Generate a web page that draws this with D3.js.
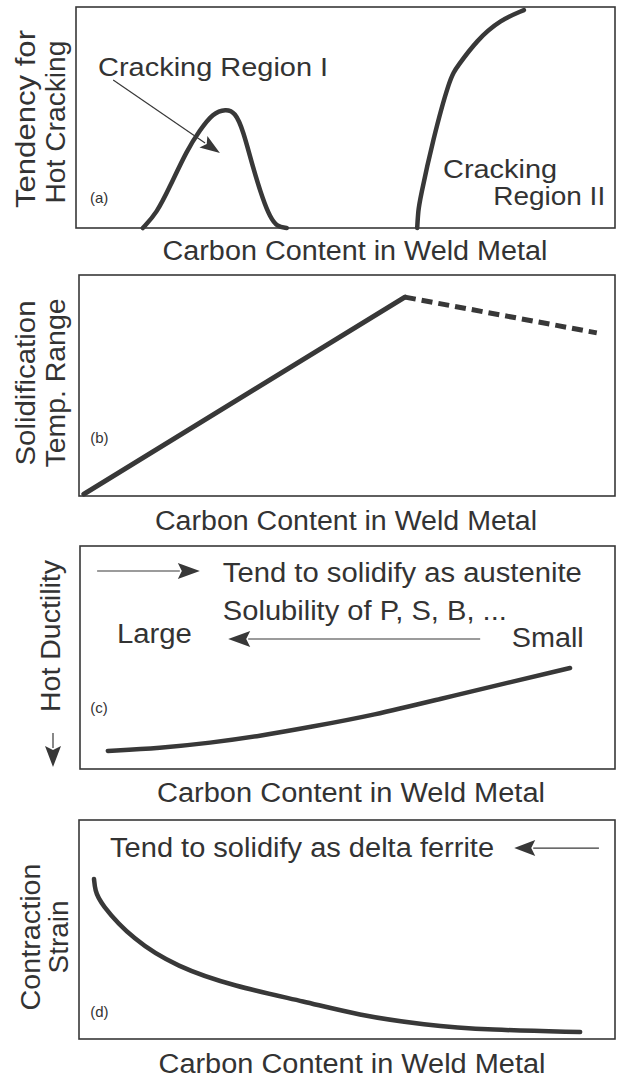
<!DOCTYPE html>
<html>
<head>
<meta charset="utf-8">
<script src="https://cdn.jsdelivr.net/npm/d3@7"></script>
<style>
  body { margin: 0; background: #fff; }
  text { font-family: "Liberation Sans", Arial, Helvetica, sans-serif; fill: #333; }
</style>
</head>
<body>
<article></article>
<script>
// values, in arbitrary 0-100 units per panel
const regionI = [[12.4, 0], [15.0, 6.8], [17.4, 18.6], [20.6, 35.3], [23.0, 44.3], [25.4, 52.0], [27.8, 53.8],
    [29.5, 52.5], [31.0, 44.3], [32.8, 27.6], [34.7, 12.7], [36.0, 5.0], [37.3, 0.5], [39.1, 0]]
const regionII = [[63.3, 0], [63.5, 8.0], [63.8, 12.7], [66.2, 39.8], [69.4, 68.3], [70.7, 72.9], [74.4, 85.1], [78.7, 94.1], [83.1, 98.6]]
const solidRange = [[0.9, 0.9], [60.8, 90.0]]
const solidRangeDashed = [[60.8, 90.0], [96.6, 73.8]]
const hotDuctility = [[5.2, 8.1], [15.0, 9.4], [24.3, 11.7], [33.6, 14.8], [43.0, 18.8], [55.0, 24.2], [67.3, 31.4], [79.8, 38.6], [91.6, 45.3]]
const contraction = [[2.8, 73.1], [3.0, 68.0], [3.9, 62.1], [10.1, 45.2], [18.3, 32.9], [28.7, 24.2], [42.5, 16.9], [51.9, 11.0],
    [64.4, 6.4], [76.7, 4.1], [93.5, 3.2]]

const xTitle = "Carbon Content in Weld Metal"
const panelTags = ["(a)", "(b)", "(c)", "(d)"]
const yTitles = [["Tendency for", "Hot Cracking"], ["Solidification", "Temp. Range"], ["Hot Ductility"], ["Contraction", "Strain"]]

const m = { width: 617, height: 1080 }
const ink = '#383838'

const svg = d3.select("article").append('svg')
    .attr('width', m.width)
    .attr('height', m.height)

const boxes = [
    { left: 76, right: 615, top: 7, bottom: 228, titleY: 260, titleX: 355, titleLen: 385 },
    { left: 79, right: 615, top: 275, bottom: 496, titleY: 530, titleX: 346, titleLen: 382 },
    { left: 80, right: 615, top: 546, bottom: 769, titleY: 802, titleX: 351, titleLen: 388 },
    { left: 79, right: 615, top: 820, bottom: 1039, titleY: 1073, titleX: 352, titleLen: 387 }
]
const tagPos = [[2.6, 11.3], [2.1, 24.0], [1.9, 25.1], [2.1, 10.0]]
const yTitlePos = [
    [[35, 119, 178], [65, 122, 163]],
    [[35, 383, 165], [65, 383, 169]],
    [[60, 636, 152]],
    [[40, 937, 147], [68, 937, 73]]
]

const panels = boxes.map(function (b, i) {
    const x = d3.scaleLinear().domain([0, 100]).range([b.left, b.right])
    const y = d3.scaleLinear().domain([0, 100]).range([b.bottom, b.top])
    const g = svg.append('g')

    g.append('rect')
        .attr('x', b.left)
        .attr('y', b.top)
        .attr('width', b.right - b.left)
        .attr('height', b.bottom - b.top)
        .attr('fill', 'none')
        .attr('stroke', ink)
        .attr('stroke-width', 1.6)

    g.append('text')
        .attr('x', b.titleX)
        .attr('y', b.titleY)
        .attr('text-anchor', 'middle')
        .attr('font-size', 27)
        .attr('textLength', b.titleLen)
        .attr('lengthAdjust', 'spacingAndGlyphs')
        .text(xTitle)

    g.append('text')
        .attr('x', x(tagPos[i][0]))
        .attr('y', y(tagPos[i][1]))
        .attr('font-size', 15)
        .text(panelTags[i])

    yTitles[i].forEach(function (t, j) {
        const p = yTitlePos[i][j]
        g.append('text')
            .attr('transform', 'translate(' + p[0] + ',' + p[1] + ') rotate(-90)')
            .attr('text-anchor', 'middle')
            .attr('font-size', 27)
            .attr('textLength', p[2])
            .attr('lengthAdjust', 'spacingAndGlyphs')
            .text(t)
    })

    return { g: g, x: x, y: y }
})

function curve(p, data, opts) {
    const line = d3.line()
        .x(function (d) { return p.x(d[0]) })
        .y(function (d) { return p.y(d[1]) })
        .curve(opts.curve || d3.curveLinear)
    p.g.append('path')
        .datum(data)
        .attr('d', line)
        .attr('fill', 'none')
        .attr('stroke', ink)
        .attr('stroke-width', opts.width || 4.5)
        .attr('stroke-linecap', opts.cap || 'round')
        .attr('stroke-linejoin', 'round')
        .attr('stroke-dasharray', opts.dash || null)
}

// thin shaft + filled head, from (x1,y1) to tip (x2,y2), all in pixels
function arrow(g, x1, y1, x2, y2, headLen, headHalf) {
    const dx = x2 - x1, dy = y2 - y1
    const len = Math.sqrt(dx * dx + dy * dy)
    const ux = dx / len, uy = dy / len
    const bx = x2 - ux * headLen, by = y2 - uy * headLen
    g.append('line')
        .attr('x1', x1).attr('y1', y1)
        .attr('x2', bx + ux * 2).attr('y2', by + uy * 2)
        .attr('stroke', ink)
        .attr('stroke-width', 1.2)
    g.append('path')
        .attr('d', 'M' + x2 + ',' + y2 +
            'L' + (bx - uy * headHalf) + ',' + (by + ux * headHalf) +
            'L' + (bx + ux * 4) + ',' + (by + uy * 4) +
            'L' + (bx + uy * headHalf) + ',' + (by - ux * headHalf) + 'Z')
        .attr('fill', ink)
}

function label(p, txt, xv, yv, size, len) {
    p.g.append('text')
        .attr('x', p.x(xv))
        .attr('y', p.y(yv))
        .attr('font-size', size)
        .attr('textLength', len)
        .attr('lengthAdjust', 'spacingAndGlyphs')
        .text(txt)
}

// (a)
const pa = panels[0]
curve(pa, regionI, { curve: d3.curveBasis })
curve(pa, regionII, { curve: d3.curveBasis })
label(pa, "Cracking Region I", 4.1, 68.8, 25, 230)
label(pa, "Cracking", 68.1, 22.6, 25, 114)
label(pa, "Region II", 77.4, 10.4, 25, 112)
arrow(pa.g, pa.x(6.9), pa.y(67.0), pa.x(26.7), pa.y(33.9), 20, 7)

// (b)
const pb = panels[1]
curve(pb, solidRange, { width: 5 })
curve(pb, solidRangeDashed, { width: 5, dash: '11,6', cap: 'butt' })

// (c)
const pc = panels[2]
curve(pc, hotDuctility, { curve: d3.curveBasis })
arrow(pc.g, pc.x(3.2), pc.y(88.8), pc.x(22.4), pc.y(88.8), 22, 8)
label(pc, "Tend to solidify as austenite", 26.7, 83.9, 27, 359)
label(pc, "Solubility of P, S, B, ...", 26.7, 66.8, 27, 284)
label(pc, "Large", 6.9, 56.5, 27, 75)
label(pc, "Small", 80.7, 54.7, 27, 72)
arrow(pc.g, pc.x(74.8), pc.y(58.3), pc.x(27.7), pc.y(58.3), 22, 8)
arrow(pc.g, 53, 733, 53, 767, 21, 8)

// (d)
const pd = panels[3]
curve(pd, contraction, { curve: d3.curveBasis })
label(pd, "Tend to solidify as delta ferrite", 5.8, 83.1, 27, 384)
arrow(pd.g, pd.x(97.0), pd.y(87.2), pd.x(81.2), pd.y(87.2), 21, 8)
</script>
</body>
</html>
